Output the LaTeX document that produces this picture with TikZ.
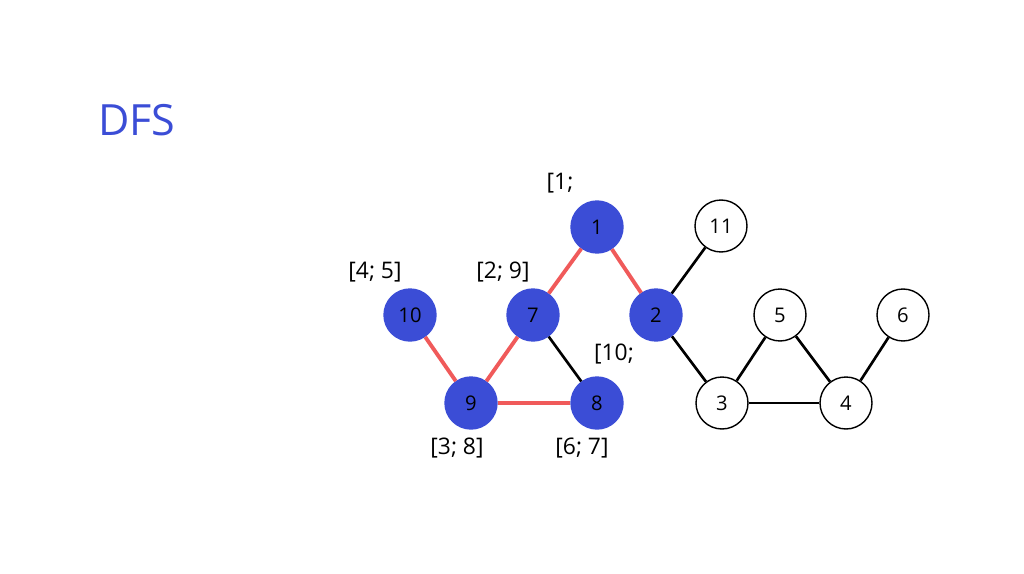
\documentclass[tikz,border=0pt]{standalone}
\usepackage{fontspec}
\setmainfont{Open Sans}
\usetikzlibrary{positioning}
\definecolor{dfsblue}{HTML}{3B4DD6}
\definecolor{treered}{HTML}{F05A5A}

\begin{document}
\begin{tikzpicture}[x=0.02cm,y=-0.02cm,
  vert/.style={circle,draw=black,line width=0.8pt,minimum size=1.04cm,inner sep=0pt,font=\fontsize{11.5}{13}\selectfont},
  seen/.style={vert,fill=dfsblue,draw=dfsblue},
  tree/.style={treered,line width=2.2pt},
  back/.style={black,line width=1.5pt},
  stamp/.style={font=\fontsize{13}{15}\selectfont}]
\useasboundingbox (0,0) rectangle (1024,574);
\node[font=\fontsize{24.5}{30}\selectfont,dfsblue] (title) at (137,120) {DFS};
% visited
\foreach \n/\x/\y in {1/597/227,10/410/315,7/533/315,2/656/315,9/471/403,8/597/403}{\node[seen] (v\n) at (\x,\y) {\n};}
% not visited yet
\foreach \n/\x/\y in {11/721/226,5/780/315,6/903/315,3/722/403,4/846/403}{\node[vert] (v\n) at (\x,\y) {\n};}
% tree edges
\foreach \a/\b in {1/7,1/2,10/9,9/7,9/8}{\draw[tree] (v\a) -- (v\b);}
% other edges
\foreach \a/\b in {7/8,2/11,2/3,3/5,5/4,3/4,4/6}{\draw[back] (v\a) -- (v\b);}
% time stamps
\node[stamp] (t1) at (560,183) {[1;};
\node[stamp] (t10) at (375,272) {[4; 5]};
\node[stamp] (t7) at (503,272) {[2; 9]};
\node[stamp] (t2) at (614,354) {[10;};
\node[stamp] (t9) at (457,448) {[3; 8]};
\node[stamp] (t8) at (582,448) {[6; 7]};
\end{tikzpicture}
\end{document}
